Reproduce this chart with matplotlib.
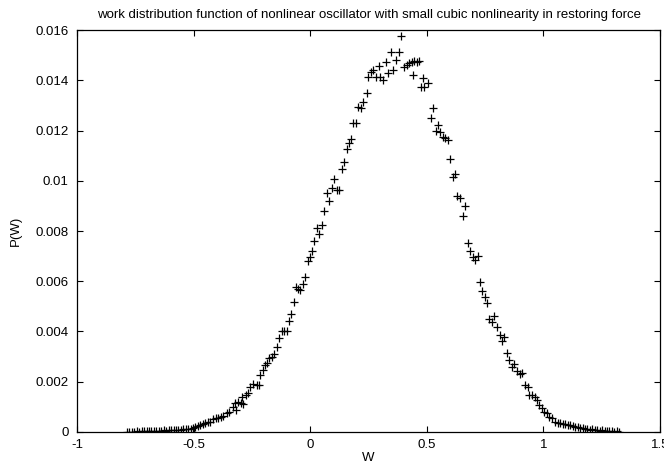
#!/usr/bin/env python3
"""Work distribution of a weakly nonlinear oscillator, plotted as '+' markers."""
import matplotlib
matplotlib.use("Agg")
import matplotlib.pyplot as plt

TITLE = "work distribution function of nonlinear oscillator with small cubic nonlinearity in restoring force"

# Values.
W_TAIL_LEFT = [-0.786, -0.775, -0.765, -0.754, -0.744, -0.733, -0.723, -0.712, -0.702,
               -0.691, -0.681, -0.670, -0.660, -0.649, -0.639, -0.628, -0.618, -0.607,
               -0.597, -0.586, -0.576, -0.565, -0.555, -0.544, -0.534, -0.523, -0.513]
P_TAIL_LEFT = [0.00000, 0.00001, 0.00001, 0.00000, 0.00002, 0.00001, 0.00002, 0.00003, 0.00002,
               0.00004, 0.00003, 0.00004, 0.00004, 0.00005, 0.00004, 0.00006, 0.00005, 0.00007,
               0.00006, 0.00008, 0.00007, 0.00009, 0.00009, 0.00011, 0.00010, 0.00013, 0.00012]

W_RISE = [-0.502, -0.492, -0.481, -0.471, -0.460, -0.450, -0.439, -0.429, -0.416, -0.405,
          -0.394, -0.383, -0.373, -0.358, -0.347, -0.332, -0.322, -0.318, -0.308, -0.298,
          -0.294, -0.287, -0.275, -0.265, -0.258, -0.244, -0.229, -0.220, -0.215, -0.204,
          -0.194, -0.187, -0.175, -0.165, -0.154, -0.144, -0.132, -0.122, -0.112, -0.100,
          -0.090, -0.082, -0.070, -0.060, -0.052, -0.044, -0.033, -0.022, -0.010, 0.000,
          0.007, 0.018, 0.028, 0.039, 0.050, 0.060, 0.071, 0.082, 0.092, 0.103,
          0.113, 0.125, 0.135, 0.145, 0.156, 0.166, 0.175]
P_RISE = [0.00016, 0.00020, 0.00025, 0.00028, 0.00030, 0.00034, 0.00038, 0.00041, 0.00052, 0.00054,
          0.00055, 0.00058, 0.00062, 0.00074, 0.00080, 0.00100, 0.00114, 0.00088, 0.00120, 0.00114,
          0.00140, 0.00110, 0.00147, 0.00154, 0.00180, 0.00190, 0.00187, 0.00187, 0.00227, 0.00247,
          0.00267, 0.00273, 0.00293, 0.00297, 0.00310, 0.00337, 0.00373, 0.00400, 0.00400, 0.00400,
          0.00440, 0.00470, 0.00517, 0.00577, 0.00568, 0.00565, 0.00590, 0.00617, 0.00680, 0.00695,
          0.00720, 0.00760, 0.00810, 0.00788, 0.00824, 0.00880, 0.00950, 0.00920, 0.00970, 0.01006,
          0.00963, 0.00963, 0.01048, 0.01076, 0.01125, 0.01149, 0.01165]

W_PEAK = [0.184, 0.196, 0.205, 0.218, 0.227, 0.244, 0.248, 0.260, 0.270, 0.282,
          0.295, 0.300, 0.312, 0.325, 0.334, 0.347, 0.355, 0.368, 0.381, 0.390,
          0.402, 0.415, 0.424, 0.437, 0.440, 0.445, 0.458, 0.467, 0.475, 0.484,
          0.490, 0.505, 0.518, 0.527, 0.540, 0.548, 0.557, 0.570, 0.580, 0.590]
P_PEAK = [0.01230, 0.01230, 0.01294, 0.01290, 0.01313, 0.01349, 0.01413, 0.01433, 0.01441, 0.01413,
          0.01457, 0.01413, 0.01401, 0.01473, 0.01429, 0.01512, 0.01441, 0.01481, 0.01512, 0.01576,
          0.01453, 0.01461, 0.01469, 0.01473, 0.01421, 0.01477, 0.01473, 0.01477, 0.01373, 0.01409,
          0.01373, 0.01389, 0.01250, 0.01290, 0.01200, 0.01222, 0.01194, 0.01174, 0.01170, 0.01162]

W_FALL = [0.600, 0.612, 0.620, 0.630, 0.642, 0.655, 0.664, 0.677, 0.685, 0.698,
          0.707, 0.720, 0.728, 0.737, 0.750, 0.758, 0.767, 0.780, 0.788, 0.800,
          0.814, 0.822, 0.830, 0.844, 0.852, 0.865, 0.874, 0.886, 0.900, 0.908,
          0.920, 0.934, 0.938, 0.950, 0.964, 0.973, 0.980, 0.994, 1.003, 1.015,
          1.024, 1.037, 1.050, 1.063]
P_FALL = [0.01087, 0.01015, 0.01027, 0.00939, 0.00931, 0.00860, 0.00900, 0.00752, 0.00720, 0.00697,
          0.00685, 0.00700, 0.00597, 0.00561, 0.00537, 0.00513, 0.00450, 0.00438, 0.00462, 0.00418,
          0.00386, 0.00362, 0.00378, 0.00314, 0.00287, 0.00259, 0.00271, 0.00243, 0.00231, 0.00235,
          0.00187, 0.00179, 0.00147, 0.00147, 0.00139, 0.00127, 0.00107, 0.00096, 0.00080, 0.00076,
          0.00060, 0.00056, 0.00040, 0.00036]

W_TAIL_RIGHT = [1.073, 1.084, 1.094, 1.105, 1.115, 1.126, 1.136, 1.147, 1.157, 1.168,
                1.178, 1.189, 1.199, 1.210, 1.220, 1.231, 1.241, 1.252, 1.262, 1.273,
                1.283, 1.294, 1.304, 1.315, 1.326]
P_TAIL_RIGHT = [0.00034, 0.00030, 0.00031, 0.00027, 0.00026, 0.00022, 0.00020, 0.00018, 0.00017, 0.00014,
                0.00012, 0.00013, 0.00009, 0.00010, 0.00007, 0.00008, 0.00005, 0.00006, 0.00004, 0.00003,
                0.00003, 0.00002, 0.00001, 0.00002, 0.00001]

X_TICKS = [-1, -0.5, 0, 0.5, 1, 1.5]
Y_TICKS = [0, 0.002, 0.004, 0.006, 0.008, 0.01, 0.012, 0.014, 0.016]


def main() -> None:
    plt.rcParams["font.family"] = ["Liberation Sans", "DejaVu Sans"]
    w = W_TAIL_LEFT + W_RISE + W_PEAK + W_FALL + W_TAIL_RIGHT
    p = P_TAIL_LEFT + P_RISE + P_PEAK + P_FALL + P_TAIL_RIGHT

    fig = plt.figure(figsize=(6.64, 4.70), dpi=100, facecolor="white")
    ax = fig.add_axes([0.116, 0.081, 0.878, 0.855])
    ax.plot(w, p, ls="none", marker="+", color="black", ms=5.5, mew=0.9)

    ax.set_xlim(-1, 1.5)
    ax.set_ylim(0, 0.016)
    ax.set_xticks(X_TICKS)
    ax.set_xticklabels([f"{t:g}" for t in X_TICKS])
    ax.set_yticks(Y_TICKS)
    ax.set_yticklabels([f"{t:g}" for t in Y_TICKS])
    ax.tick_params(direction="in", top=True, right=True, length=4, width=0.8,
                   labelsize=9.5)
    ax.tick_params(axis="x", pad=5)
    ax.tick_params(axis="y", pad=6)
    for spine in ax.spines.values():
        spine.set_linewidth(0.9)
    ax.set_xlabel("W", fontsize=9.5, labelpad=1)
    ax.set_ylabel("P(W)", fontsize=9.5, labelpad=10)
    ax.set_title(TITLE, fontsize=9.5, pad=9)
    fig.savefig("out.png", dpi=100, facecolor="white")
    plt.close(fig)


if __name__ == "__main__":
    main()
